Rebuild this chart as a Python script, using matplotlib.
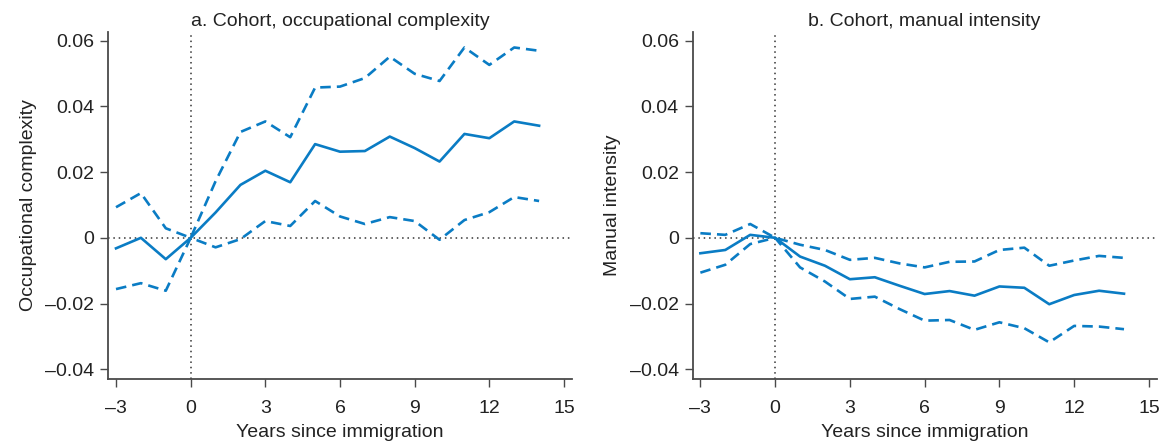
import matplotlib.pyplot as plt
import matplotlib as mpl

mpl.rcParams['font.family'] = ['Liberation Sans', 'DejaVu Sans']

# years since immigration
years = list(range(-3, 15))

# panel a: occupational complexity (estimate, upper/lower bands)
occ_est = [-0.0032, 0.0, -0.0065, 0.0, 0.0077, 0.0161, 0.0204, 0.0169, 0.0285,
           0.0262, 0.0264, 0.0308, 0.0273, 0.0232, 0.0316, 0.0303, 0.0354, 0.0341]
occ_hi = [0.0093, 0.0136, 0.0029, 0.0, 0.0172, 0.0322, 0.0354, 0.0306, 0.0457,
          0.0460, 0.0486, 0.0551, 0.0499, 0.0477, 0.0579, 0.0526, 0.0579, 0.0569]
occ_lo = [-0.0156, -0.0138, -0.0161, 0.0, -0.0029, -0.0004, 0.0051, 0.0036, 0.0112,
          0.0065, 0.0042, 0.0063, 0.0051, -0.0006, 0.0054, 0.0078, 0.0124, 0.0112]

# panel b: manual intensity
man_est = [-0.0047, -0.0037, 0.0009, 0.0, -0.0057, -0.0085, -0.0126, -0.0120, -0.0146,
           -0.0171, -0.0162, -0.0176, -0.0148, -0.0152, -0.0202, -0.0174, -0.0161, -0.0170]
man_hi = [0.0014, 0.0009, 0.0042, 0.0, -0.0021, -0.0037, -0.0067, -0.0061, -0.0078,
          -0.0090, -0.0073, -0.0072, -0.0037, -0.0030, -0.0085, -0.0069, -0.0055, -0.0061]
man_lo = [-0.0106, -0.0082, -0.0019, 0.0, -0.0090, -0.0133, -0.0186, -0.0179, -0.0217,
          -0.0252, -0.0250, -0.0280, -0.0257, -0.0275, -0.0318, -0.0268, -0.0270, -0.0278]

xticks = [-3, 0, 3, 6, 9, 12, 15]
yticks = [-0.04, -0.02, 0, 0.02, 0.04, 0.06]
ylabels = ['\u20130.04', '\u20130.02', '0', '0.02', '0.04', '0.06']
xlabels = ['\u20133', '0', '3', '6', '9', '12', '15']

blue = '#0a7cc4'
spine_c = '#4a4a4a'

fig = plt.figure(figsize=(11.72, 4.44), dpi=100)
ax_a = fig.add_axes([0.0924, 0.1464, 0.3954, 0.7822])
ax_b = fig.add_axes([0.5910, 0.1464, 0.3959, 0.7822])

panels = [(ax_a, occ_est, occ_hi, occ_lo, 'a. Cohort, occupational complexity', 'Occupational complexity'),
          (ax_b, man_est, man_hi, man_lo, 'b. Cohort, manual intensity', 'Manual intensity')]

for ax, est, hi, lo, title, ylab in panels:
    ax.axhline(0, color='#333333', lw=1.1, ls=(0, (1, 2.5)), zorder=1)
    ax.axvline(0, color='#333333', lw=1.1, ls=(0, (1, 2.5)), zorder=1)
    ax.plot(years, est, color=blue, lw=1.9, zorder=3)
    ax.plot(years, hi, color=blue, lw=1.9, ls=(0, (4, 2.3)), zorder=3)
    ax.plot(years, lo, color=blue, lw=1.9, ls=(0, (4, 2.3)), zorder=3)
    ax.set_xlim(-3.31, 15.31)
    ax.set_ylim(-0.04295, 0.0627)
    ax.set_xticks(xticks)
    ax.set_xticklabels(xlabels)
    ax.set_yticks(yticks)
    ax.set_yticklabels(ylabels)
    ax.spines[['top', 'right']].set_visible(False)
    ax.spines[['left', 'bottom']].set_color(spine_c)
    ax.spines[['left', 'bottom']].set_linewidth(1.3)
    ax.tick_params(direction='out', length=6, width=1, color=spine_c,
                   labelsize=14, labelcolor='#222222', pad=4)
    ax.tick_params(axis='x', pad=9)
    ax.set_title(title, fontsize=14, color='#222222', pad=4)
    ax.set_xlabel('Years since immigration', fontsize=14, color='#222222', labelpad=5)
    ax.set_ylabel(ylab, fontsize=14, color='#222222', labelpad=6)

plt.savefig('out.png', dpi=100)
